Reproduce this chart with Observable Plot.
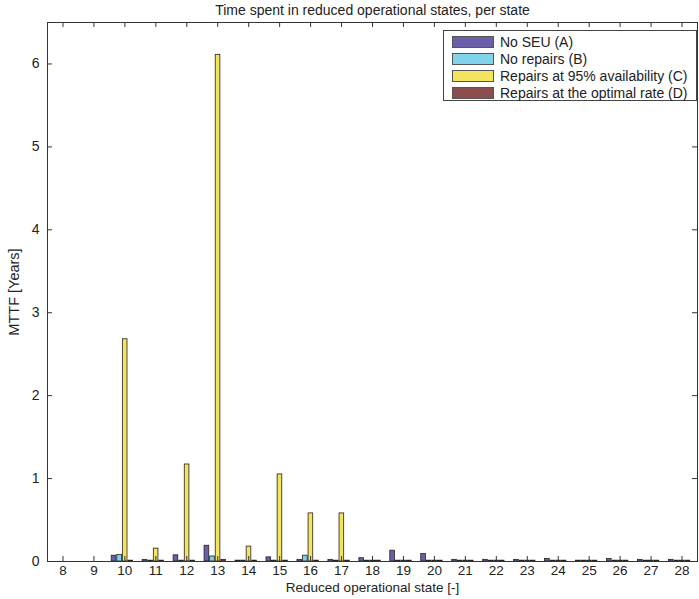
<!DOCTYPE html>
<html>
<head>
<meta charset="utf-8">
<script src="https://cdn.jsdelivr.net/npm/d3@7"></script>
<script src="https://cdn.jsdelivr.net/npm/@observablehq/plot@0.6"></script>
<style>
  html, body { margin: 0; padding: 0; background: #fff; }
  #wrap { position: relative; width: 699px; height: 599px; font-family: "Liberation Sans", Arial, sans-serif; }
  #legend { position: absolute; left: 443px; top: 30px; width: 254px; height: 71px; border: 1px solid #444; background: #fff; box-sizing: border-box; padding-top: 2px; }
  .row { height: 17px; display: flex; align-items: center; font-size: 14px; color: #222; white-space: nowrap; }
  .sw { width: 42px; height: 12px; margin-left: 8px; margin-right: 6px; border: 1px solid #555; box-sizing: border-box; flex: none; }
</style>
</head>
<body>
<div id="wrap"></div>
<script>
const states = [8,9,10,11,12,13,14,15,16,17,18,19,20,21,22,23,24,25,26,27,28];
const seriesNames = ["No SEU (A)", "No repairs (B)", "Repairs at 95% availability (C)", "Repairs at the optimal rate (D)"];
const noSEU      = [0,0,0.07,0.02,0.075,0.19,0.01,0.05,0.02,0.02,0.04,0.13,0.09,0.02,0.02,0.02,0.03,0.01,0.03,0.02,0.02];
const noRepairs  = [0,0,0.08,0.01,0.01,0.06,0.01,0.01,0.07,0.01,0.01,0.01,0.01,0.01,0.01,0.01,0.01,0.01,0.01,0.01,0.01];
const repairs95  = [0,0,2.68,0.155,1.17,6.11,0.18,1.05,0.58,0.58,0.01,0.01,0.01,0.01,0.01,0.01,0.01,0.01,0.01,0.01,0.01];
const repairsOpt = [0,0,0.01,0.01,0.01,0.02,0.01,0.01,0.01,0.01,0.01,0.01,0.01,0.01,0.01,0.01,0.01,0.01,0.01,0.01,0.01];
const seriesColors = ["#6a5fa8", "#7fd4ec", "#f3e35f", "#8a4c4c"];
const yTicks = [0,1,2,3,4,5,6];
const titleText = "Time spent in reduced operational states, per state";
const xLabel = "Reduced operational state [-]";
const yLabel = "MTTF [Years]";

const seriesValues = [noSEU, noRepairs, repairs95, repairsOpt];
const offsets = [-0.35, -0.17, 0.01, 0.19];
const bw = 0.15;
const data = [];
seriesValues.forEach((vals, si) => vals.forEach((v, i) => data.push({state: states[i], series: si, value: v})));

const W = 699, H = 599, mt = 22, mr = 2, mb = 38, ml = 47;
const pw = W - ml - mr, ph = H - mt - mb;

const chart = Plot.plot({
  width: W, height: H,
  marginTop: mt, marginRight: mr, marginBottom: mb, marginLeft: ml,
  style: {fontFamily: "Liberation Sans, Arial, sans-serif", fontSize: "13px", color: "#222", background: "#fff"},
  x: {type: "linear", domain: [7.5, 28.5]},
  y: {domain: [0, 6.5]},
  marks: [
    Plot.rectY(data, {
      x1: d => d.state + offsets[d.series] - bw / 2,
      x2: d => d.state + offsets[d.series] + bw / 2,
      y1: 0, y2: "value",
      fill: d => seriesColors[d.series],
      stroke: "#222", strokeWidth: 0.8
    }),
    Plot.tickX(states, {x: d => d, insetBottom: ph - 5, stroke: "#333"}),
    Plot.tickX(states, {x: d => d, insetTop: ph - 5, stroke: "#333"}),
    Plot.tickY(yTicks, {y: d => d, insetRight: pw - 5, stroke: "#333"}),
    Plot.tickY(yTicks, {y: d => d, insetLeft: pw - 5, stroke: "#333"}),
    Plot.axisX({ticks: states, tickSize: 0, tickPadding: 4, tickFormat: d => String(d), label: null, fontSize: 13.5}),
    Plot.axisY({ticks: yTicks, tickSize: 0, tickPadding: 8, tickFormat: d => String(d), label: null, fontSize: 14}),
    Plot.frame({stroke: "#333", strokeWidth: 1}),
    Plot.text([titleText], {frameAnchor: "top", textAnchor: "middle", lineAnchor: "middle", dy: -12, fontSize: 14, fill: "#222"}),
    Plot.text([xLabel], {frameAnchor: "bottom", textAnchor: "middle", lineAnchor: "middle", dy: 26, fontSize: 13.5, fill: "#222"}),
    Plot.text([yLabel], {frameAnchor: "left", textAnchor: "middle", lineAnchor: "middle", dx: -33, rotate: -90, fontSize: 14.5, fill: "#222"})
  ]
});

const wrap = document.getElementById("wrap");
wrap.appendChild(chart);
const legend = document.createElement("div");
legend.id = "legend";
seriesNames.forEach((name, i) => {
  const row = document.createElement("div");
  row.className = "row";
  const sw = document.createElement("div");
  sw.className = "sw";
  sw.style.background = seriesColors[i];
  const t = document.createElement("span");
  t.textContent = name;
  row.appendChild(sw);
  row.appendChild(t);
  legend.appendChild(row);
});
wrap.appendChild(legend);
</script>
</body>
</html>
